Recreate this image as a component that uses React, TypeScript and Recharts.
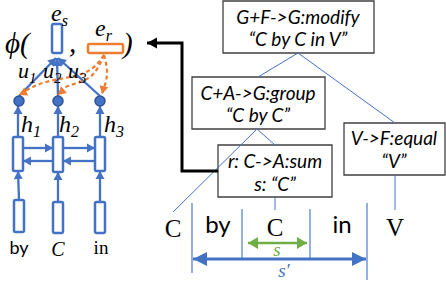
import { ComposedChart, XAxis, YAxis, Line, Scatter, ReferenceArea } from "recharts";

type Pt = { x: number; y: number };
type Label = { x: number; y: number; text: string; sub?: string };

const BLUE = "#4472C4";
const DARK_BLUE = "#2F5597";
const ORANGE = "#ED7D31";
const GREEN = "#70AD47";
const BOX_EDGE = "#404040";

const W = 446;
const H = 286;

// ---- encoder (left half) ----
const vectorBoxes = [
  { x1: 52, x2: 62, y1: 24, y2: 53 }, // e_s
  { x1: 13, x2: 23, y1: 137, y2: 171 }, // lstm states
  { x1: 53, x2: 63, y1: 137, y2: 172 },
  { x1: 95, x2: 105, y1: 137, y2: 171 },
  { x1: 14, x2: 24, y1: 200, y2: 232 }, // word embeddings
  { x1: 53, x2: 63, y1: 202, y2: 233 },
  { x1: 95, x2: 105, y1: 202, y2: 233 },
];
const ruleVector = { x1: 88, x2: 123, y1: 44, y2: 53 };

const attnNodes: Pt[] = [
  { x: 19, y: 101 },
  { x: 58, y: 101 },
  { x: 100, y: 101 },
];

const blueArrows: Pt[][] = [
  [{ x: 19, y: 96 }, { x: 56, y: 58 }],
  [{ x: 58, y: 96 }, { x: 57, y: 58 }],
  [{ x: 100, y: 96 }, { x: 58, y: 58 }],
  [{ x: 18, y: 137 }, { x: 18, y: 106 }],
  [{ x: 58, y: 137 }, { x: 58, y: 106 }],
  [{ x: 100, y: 137 }, { x: 100, y: 106 }],
  [{ x: 23, y: 148 }, { x: 53, y: 148 }],
  [{ x: 63, y: 148 }, { x: 95, y: 148 }],
  [{ x: 53, y: 161 }, { x: 23, y: 161 }],
  [{ x: 95, y: 161 }, { x: 63, y: 161 }],
  [{ x: 19, y: 200 }, { x: 18, y: 171 }],
  [{ x: 58, y: 202 }, { x: 58, y: 172 }],
  [{ x: 100, y: 202 }, { x: 100, y: 171 }],
];

const ruleCurves: Pt[][] = [
  [{ x: 104, y: 55 }, { x: 84, y: 73 }, { x: 46, y: 82 }, { x: 19, y: 95 }],
  [{ x: 104, y: 55 }, { x: 90, y: 77 }, { x: 68, y: 86 }, { x: 58, y: 95 }],
  [{ x: 104, y: 55 }, { x: 107, y: 74 }, { x: 102, y: 94 }],
];

const feedback: Pt[] = [
  { x: 218, y: 171 },
  { x: 182, y: 171 },
  { x: 182, y: 43 },
  { x: 147, y: 43 },
];

const phiParts: Label[] = [
  { x: 5, y: 53, text: "ϕ(" },
  { x: 69, y: 52, text: "," },
  { x: 123, y: 53, text: ")" },
];
const vectorNames: Label[] = [
  { x: 51, y: 21, text: "e", sub: "s" },
  { x: 95, y: 36, text: "e", sub: "r" },
];
const attnNames: Label[] = [
  { x: 18, y: 78, text: "u", sub: "1" },
  { x: 43, y: 78, text: "u", sub: "2" },
  { x: 68, y: 78, text: "u", sub: "3" },
];
const hiddenNames: Label[] = [
  { x: 21, y: 132, text: "h", sub: "1" },
  { x: 59, y: 132, text: "h", sub: "2" },
  { x: 104, y: 132, text: "h", sub: "3" },
];
const inputSans: Label[] = [{ x: 19, y: 254, text: "by" }];
const inputSerif: Label[] = [{ x: 101, y: 254, text: "in" }];
const inputMath: Label[] = [{ x: 58, y: 256, text: "C" }];

// ---- derivation tree (right half) ----
const treeBoxes = [
  { x1: 223, x2: 374, y1: 1, y2: 53 },
  { x1: 192, x2: 325, y1: 77, y2: 129 },
  { x1: 344, x2: 445, y1: 123, y2: 175 },
  { x1: 218, x2: 332, y1: 145, y2: 197 },
];
const ruleLines: Label[] = [
  { x: 298, y: 16, text: "G+F->G:modify" },
  { x: 298, y: 38, text: "“C by C in V”" },
  { x: 258, y: 92, text: "C+A->G:group" },
  { x: 258, y: 114, text: "“C by C”" },
  { x: 394, y: 137, text: "V->F:equal" },
  { x: 394, y: 160, text: "“V”" },
  { x: 275, y: 160, text: "r: C->A:sum" },
  { x: 275, y: 183, text: "s: “C”" },
];
const treeEdges: Pt[][] = [
  [{ x: 298, y: 53 }, { x: 258, y: 77 }],
  [{ x: 298, y: 53 }, { x: 395, y: 123 }],
  [{ x: 257, y: 129 }, { x: 275, y: 145 }],
  [{ x: 257, y: 129 }, { x: 173, y: 212 }],
  [{ x: 275, y: 197 }, { x: 275, y: 210 }],
  [{ x: 395, y: 175 }, { x: 395, y: 210 }],
];
const sentenceSans: Label[] = [
  { x: 218, y: 233, text: "by" },
  { x: 342, y: 233, text: "in" },
];
const sentenceSerif: Label[] = [
  { x: 173, y: 237, text: "C" },
  { x: 275, y: 236, text: "C" },
  { x: 395, y: 236, text: "V" },
];
const spanTicks: Pt[][] = [
  [{ x: 192, y: 203 }, { x: 192, y: 273 }],
  [{ x: 242, y: 209 }, { x: 242, y: 258 }],
  [{ x: 310, y: 209 }, { x: 310, y: 258 }],
  [{ x: 367, y: 203 }, { x: 367, y: 280 }],
];
const spanS: Pt[] = [{ x: 248, y: 243 }, { x: 307, y: 243 }];
const spanSPrime: Pt[] = [{ x: 193, y: 259 }, { x: 366, y: 259 }];
const spanNames: Label[] = [
  { x: 277, y: 256, text: "s" },
  { x: 284, y: 277, text: "s′" },
];

const headDot =
  (pts: Pt[], color: string, len: number, half: number, both = false) =>
  (props: any) => {
    const { cx, cy, index } = props;
    const last = pts.length - 1;
    let from: Pt | null = null;
    if (index === last) from = pts[last - 1];
    else if (both && index === 0) from = pts[1];
    if (!from || cx == null) return <g key={`h${index}`} />;
    const p = pts[index];
    const a = Math.atan2(p.y - from.y, p.x - from.x);
    const bx = cx - len * Math.cos(a);
    const by = cy - len * Math.sin(a);
    const nx = -Math.sin(a) * half;
    const ny = Math.cos(a) * half;
    return (
      <polygon
        key={`h${index}`}
        points={`${cx},${cy} ${bx + nx},${by + ny} ${bx - nx},${by - ny}`}
        fill={color}
      />
    );
  };

const textShape = (style: any, subStyle?: any) => (p: any) =>
  (
    <text x={p.cx} y={p.cy} {...style}>
      {p.payload.text}
      {p.payload.sub && (
        <tspan dy={5} {...subStyle}>
          {p.payload.sub}
        </tspan>
      )}
    </text>
  );

const serif = "'Liberation Serif', 'DejaVu Serif', serif";
const sans = "Lato, 'Liberation Sans', sans-serif";
const mathStyle = { fontFamily: serif, fontStyle: "italic", fontSize: 24, fill: "#000" };

export default function App() {
  return (
    <div style={{ position: "absolute", left: 0, top: 0, width: W, height: H, background: "#fff" }}>
      <ComposedChart width={W} height={H} margin={{ top: 0, right: 0, bottom: 0, left: 0 }}>
        <XAxis type="number" dataKey="x" domain={[0, W]} hide />
        <YAxis type="number" dataKey="y" domain={[0, H]} reversed hide />

        {treeBoxes.map((b, i) => (
          <ReferenceArea key={`tb${i}`} {...b} fill="#fff" fillOpacity={1} stroke={BOX_EDGE} strokeWidth={1.3} />
        ))}
        {vectorBoxes.map((b, i) => (
          <ReferenceArea key={`vb${i}`} {...b} fill="#fff" fillOpacity={1} stroke={BLUE} strokeWidth={2.5} radius={1.5} />
        ))}
        <ReferenceArea {...ruleVector} fill="#fff" fillOpacity={1} stroke={ORANGE} strokeWidth={2.5} radius={1.5} />

        {treeEdges.map((d, i) => (
          <Line key={`te${i}`} data={d} dataKey="y" stroke={BLUE} strokeWidth={1} dot={false} activeDot={false} isAnimationActive={false} />
        ))}
        {spanTicks.map((d, i) => (
          <Line key={`st${i}`} data={d} dataKey="y" stroke="#7096D8" strokeWidth={1.5} dot={false} activeDot={false} isAnimationActive={false} />
        ))}
        <Line data={spanS} dataKey="y" stroke={GREEN} strokeWidth={2.5} dot={headDot(spanS, GREEN, 10, 6, true)} activeDot={false} isAnimationActive={false} />
        <Line data={spanSPrime} dataKey="y" stroke={BLUE} strokeWidth={3} dot={headDot(spanSPrime, BLUE, 14, 7, true)} activeDot={false} isAnimationActive={false} />

        {blueArrows.map((d, i) => (
          <Line key={`ba${i}`} data={d} dataKey="y" stroke={BLUE} strokeWidth={2.3} dot={headDot(d, BLUE, 8, 4.5)} activeDot={false} isAnimationActive={false} />
        ))}
        {ruleCurves.map((d, i) => (
          <Line key={`rc${i}`} type="natural" data={d} dataKey="y" stroke={ORANGE} strokeWidth={2.2} strokeDasharray="4 3" dot={headDot(d, ORANGE, 8, 4.5)} activeDot={false} isAnimationActive={false} />
        ))}
        <Line data={feedback} dataKey="y" stroke="#000" strokeWidth={3} dot={headDot(feedback, "#000", 10, 5.5)} activeDot={false} isAnimationActive={false} />

        <Scatter
          data={attnNodes}
          isAnimationActive={false}
          shape={(p: any) => <circle cx={p.cx} cy={p.cy} r={5} fill={BLUE} stroke={DARK_BLUE} strokeWidth={1.5} />}
        />

        <Scatter data={phiParts} isAnimationActive={false} shape={textShape({ ...mathStyle, fontSize: 29 })} />
        <Scatter data={vectorNames} isAnimationActive={false} shape={textShape(mathStyle, { fontSize: 16 })} />
        <Scatter data={attnNames} isAnimationActive={false} shape={textShape({ ...mathStyle, fontSize: 22 }, { fontSize: 15 })} />
        <Scatter data={hiddenNames} isAnimationActive={false} shape={textShape(mathStyle, { fontSize: 16 })} />
        <Scatter data={inputSans} isAnimationActive={false} shape={textShape({ fontFamily: sans, fontSize: 18, textAnchor: "middle", fill: "#000" })} />
        <Scatter data={inputSerif} isAnimationActive={false} shape={textShape({ fontFamily: serif, fontSize: 19, textAnchor: "middle", fill: "#000" })} />
        <Scatter data={inputMath} isAnimationActive={false} shape={textShape({ ...mathStyle, fontSize: 20, textAnchor: "middle" })} />
        <Scatter
          data={ruleLines}
          isAnimationActive={false}
          shape={textShape({ fontFamily: sans, fontStyle: "italic", fontSize: 19, textAnchor: "middle", dominantBaseline: "central", fill: "#000" })}
        />
        <Scatter data={sentenceSans} isAnimationActive={false} shape={textShape({ fontFamily: sans, fontSize: 24, textAnchor: "middle", fill: "#000" })} />
        <Scatter data={sentenceSerif} isAnimationActive={false} shape={textShape({ fontFamily: serif, fontSize: 25, textAnchor: "middle", fill: "#000" })} />
        <Scatter
          data={spanNames.slice(0, 1)}
          isAnimationActive={false}
          shape={textShape({ ...mathStyle, fontSize: 19, textAnchor: "middle", fill: GREEN })}
        />
        <Scatter
          data={spanNames.slice(1)}
          isAnimationActive={false}
          shape={textShape({ ...mathStyle, fontSize: 19, textAnchor: "middle", fill: BLUE })}
        />
      </ComposedChart>
    </div>
  );
}
